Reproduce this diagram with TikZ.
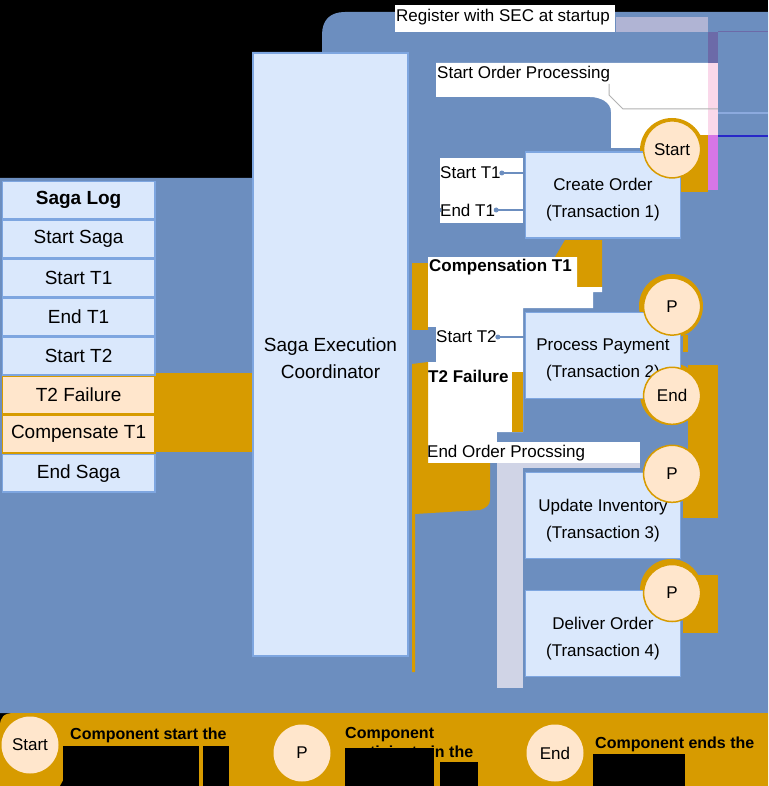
\documentclass[tikz,border=0pt]{standalone}
\usepackage{fontspec}
\setmainfont{Liberation Sans}
\usetikzlibrary{positioning, matrix}
\definecolor{bgblue}{HTML}{6C8EBF}
\definecolor{boxfill}{HTML}{DAE8FC}
\definecolor{boxline}{HTML}{7EA6E0}
\definecolor{orfill}{HTML}{FFE6CC}
\definecolor{gold}{HTML}{D79B00}
\definecolor{lavender}{RGB}{208,212,230}
\definecolor{lilac}{RGB}{176,180,212}
\definecolor{purpl}{RGB}{108,106,168}
\definecolor{pinky}{RGB}{250,216,234}
\definecolor{magen}{RGB}{214,118,230}
\definecolor{lineblue}{RGB}{140,170,222}
\definecolor{deepblue}{RGB}{40,40,200}
\newcommand{\boxtop}{\rule{0pt}{22pt}}

\begin{document}
\begin{tikzpicture}[x=1pt, y=-1pt,
    lognode/.style={draw=boxline, fill=boxfill, line width=1.2pt, minimum width=152.8pt,
                    minimum height=37.8pt, inner sep=0pt, outer sep=0pt,
                    font=\fontsize{19}{22}\selectfont},
    logerr/.style={lognode, draw=gold, fill=orfill},
    txbox/.style={draw=boxline, fill=boxfill, line width=1.2pt, minimum width=155pt,
                  minimum height=86pt, inner sep=0pt, align=center,
                  font=\fontsize{17}{27}\selectfont},
    circ/.style={circle, draw=gold, fill=orfill, line width=1.5pt, minimum size=57pt,
                 inner sep=0pt, font=\fontsize{17}{20}\selectfont},
    legcirc/.style={circle, fill=orfill, minimum size=57pt, inner sep=0pt,
                    font=\fontsize{17}{20}\selectfont},
    lbl/.style={anchor=west, inner sep=1pt, font=\fontsize{17}{20}\selectfont},
    lblb/.style={lbl, font=\fontsize{17}{20}\selectfont\bfseries},
    legtxt/.style={anchor=north west, align=left, inner sep=0pt,
                   font=\fontsize{16}{19}\selectfont\bfseries},
    conn/.style={bgblue, line width=2.5pt},
    dot/.style={fill=bgblue},
  ]
  \useasboundingbox (0,0) rectangle (768,786);
  \fill[black] (0,0) rectangle (768,786);

  % Background areas
  \fill[bgblue] (0,178) -- (252,178) -- (252,52) -- (322,52) -- (322,35)
    .. controls (322,20) and (330,12) .. (345,12) -- (768,12) -- (768,713) -- (0,713) -- cycle;
  \fill[gold] (0,726) .. controls (0,717) and (4,713) .. (14,713) -- (768,713)
    -- (768,786) -- (0,786) -- cycle;
  \fill[gold] (155,373) rectangle (252,452);

  % Top labels and strips
  \fill[white] (395,5) rectangle (615,32);
  \fill[lilac] (616,17) rectangle (708,32);
  \fill[purpl] (708,32) rectangle (718,63);
  \draw[purpl, line width=1pt] (718,32) -- (768,32);
  \fill[white] (436,63) -- (708,63) -- (708,148) -- (611,148) -- (611,112)
    .. controls (611,102) and (600,97) .. (590,97) -- (436,97) -- cycle;
  \fill[pinky] (708,63) rectangle (718,135);
  \draw[gray!60, line width=1pt] (609,84) -- (609,95) -- (623,109) -- (718,109);
  \draw[lineblue, line width=2pt] (718,113) -- (768,113);
  \draw[deepblue, line width=1.5pt] (718,136) -- (768,136);

  % Gold behind the start circle
  \fill[gold] (672,150) circle (32);
  \fill[gold] (672,135) rectangle (708,192);
  \fill[magen] (708,135) rectangle (718,190);

  % Labels beside the transactions
  \fill[white] (440,158) rectangle (523,223);
  \fill[gold] (555,257) -- (565,240) -- (602,240) -- (602,287) -- (577,287) -- (577,257) -- cycle;
  \fill[white] (428,257) -- (577,257) -- (577,287) -- (602,287) -- (602,292) -- (593,292)
    -- (593,308) -- (523,308) -- (523,432) -- (428,432) -- cycle;
  \fill[bgblue] (412,327) rectangle (436,362);
  \fill[gold] (512,372) rectangle (523,432);
  \fill[white] (427,432) rectangle (497,442);
  \fill[white] (427,442) rectangle (640,463);
  \fill[lavender] (497,463) rectangle (523,688);
  \fill[lavender] (497,463) rectangle (640,468);
  \fill[gold] (412,263) rectangle (428,330);
  \fill[gold] (412,364) -- (428,362) -- (428,463) -- (490,463) -- (490,500)
    .. controls (490,505) and (486,508) .. (480,510) -- (415,514) -- (415,672)
    -- (412,672) -- cycle;

  % Gold behind the other circles
  \fill[gold] (671,306) circle (32);
  \fill[gold] (683,335) rectangle (688,352);
  \fill[gold] (671,394) circle (31);
  \fill[gold] (688,365) rectangle (718,518);
  \fill[gold] (683,463) rectangle (718,518);
  \fill[gold] (671,590) circle (31);
  \fill[gold] (683,575) rectangle (718,633);

  % Saga log
  \matrix[matrix of nodes, column sep=0pt, row sep=0pt, inner sep=0pt, outer sep=0pt,
          anchor=north west, nodes={lognode}] (log) at (1.6,180.6) {
    |[font=\fontsize{19}{22}\selectfont\bfseries]| Saga Log \\
    Start Saga \\
    Start T1 \\
    End T1 \\
    Start T2 \\
    |[logerr]| T2 Failure \\
    |[logerr]| Compensate T1 \\
    End Saga \\
  };

  % Coordinator and transactions
  \node[txbox, minimum height=603pt, font=\fontsize{19}{27}\selectfont] (sec) at (330.5,354.5)
    {\boxtop Saga Execution\\Coordinator};
  \node[txbox] (co) at (603,195) {\boxtop Create Order\\(Transaction 1)};
  \node[txbox, below=73pt of co] (pp) {\boxtop Process Payment\\(Transaction 2)};
  \node[txbox, below=73pt of pp] (ui) {\boxtop Update Inventory\\(Transaction 3)};
  \node[txbox, below=31pt of ui] (do) {\boxtop Deliver Order\\(Transaction 4)};

  \node[circ] (cs) at ([xshift=-9pt, yshift=2pt]co.north east) {Start};
  \node[circ] (ce) at ([xshift=-9pt, yshift=3pt]pp.south east) {End};
  \foreach \b/\dy/\n in {pp/5/pa, ui/-2/pb, do/-3/pc} {
    \node[circ] (\n) at ([xshift=-9pt, yshift=\dy pt]\b.north east) {P};
  }

  % Messages
  \node[lbl] (reg) at (395,17) {Register with SEC at startup};
  \node[lbl] (sop) at (436,74) {Start Order Processing};
  \node[lbl] (st1) at (439,173) {Start T1};
  \node[lbl] (et1) at (439,210) {End T1};
  \node[lblb] (ct1) at (428,267) {Compensation T1};
  \node[lbl] (st2) at (435,337) {Start T2};
  \node[lblb] (tf2) at (427,376) {T2 Failure};
  \node[lbl] (eop) at (426,453) {End Order Procssing};

  \draw[conn] (st1.east) -- (st1.east -| co.west);
  \draw[conn] (et1.east) -- (et1.east -| co.west);
  \draw[conn] (st2.east) -- (st2.east -| pp.west);
  \foreach \n in {st1.east, et1.east, et1.west, st2.east} {
    \fill[dot] (\n) circle (2.5pt);
  }

  % Legend
  \node[legcirc] (ls) at (30,745) {Start};
  \node[legcirc] (lp) at (302,753) {P};
  \node[legcirc] (le) at (555,753) {End};
  \node[legtxt] (lst) at (70,728) {Component start the};
  \node[legtxt] (lpt) at (345,727) {Component\\participate in the};
  \node[legtxt] (let) at (595,737) {Component ends the};
  \fill[black] (63,746) rectangle (199,786);
  \fill[black] (203,746) rectangle (229,786);
  \fill[black] (60,786) -- (70,768) -- (70,786) -- cycle;
  \fill[black] (345,748) rectangle (434,786);
  \fill[black] (440,762) rectangle (478,786);
  \fill[black] (593,754) rectangle (685,786);
\end{tikzpicture}
\end{document}
